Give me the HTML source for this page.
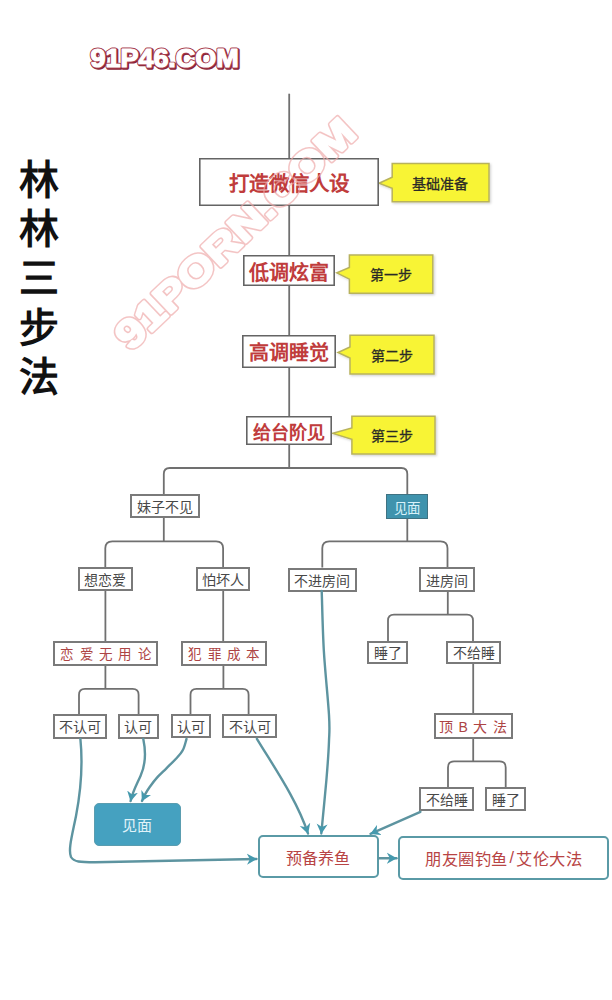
<!DOCTYPE html>
<html lang="zh-CN">
<head>
<meta charset="utf-8">
<style>
html,body{margin:0;padding:0;background:#fff;}
body{width:612px;height:1000px;position:relative;overflow:hidden;font-family:"Liberation Sans",sans-serif;}
.a{position:absolute;box-sizing:border-box;display:flex;align-items:center;justify-content:center;white-space:nowrap;}
.mb{border:none;box-shadow:inset 0 0 0 1.6px #646464;background:#fff;color:#c03c3c;font-weight:bold;font-size:21px;}
.nb{border:2px solid #7a7a7a;background:#fff;color:#484848;font-size:14px;}
.rb{border:2px solid #7a7a7a;background:#fff;color:#ad4444;font-weight:500;font-size:13.5px;letter-spacing:6.3px;}
.tb{background:#3f93ad;border:1.5px solid #3f7282;color:#d8f2fa;font-size:13.5px;padding-top:1px;}
.bb{background:#45a1c0;border:1px solid #5a9db0;border-radius:5px;color:#e0f3f9;font-size:15px;}
.ob{border:2px solid #5a9aa6;border-radius:5px;background:#fff;color:#b84444;font-size:16px;}
.title{position:absolute;left:19px;top:155.5px;font-size:40px;line-height:49.4px;font-weight:bold;color:#111;width:45px;}
svg{position:absolute;left:0;top:0;}
</style>
</head>
<body>
<svg width="612" height="1000" viewBox="0 0 612 1000">
  <defs><filter id="sh" x="-10%" y="-10%" width="130%" height="130%"><feDropShadow dx="1.2" dy="1.2" stdDeviation="0.8" flood-color="#000" flood-opacity="0.18"/></filter></defs>
  <g font-family="Liberation Sans, sans-serif">
  <path d="M392.2 163.6 H489 V201.7 H392.2 V188.2 L379 183.2 L392.2 177.2 Z" fill="#f8f434" stroke="#b8b25c" stroke-width="1.5" filter="url(#sh)"/><text x="439.5" y="189" text-anchor="middle" font-size="14" font-weight="normal" fill="#2a2a26" stroke="#2a2a26" stroke-width="0.3">基础准备</text><path d="M349.4 254.9 H432.8 V293.2 H349.4 V279.1 L336.8 272.9 L349.4 267.5 Z" fill="#f8f434" stroke="#b8b25c" stroke-width="1.5" filter="url(#sh)"/><text x="391" y="280" text-anchor="middle" font-size="14" font-weight="normal" fill="#2a2a26" stroke="#2a2a26" stroke-width="0.3">第一步</text><path d="M350 335.3 H434 V374 H350 V358 L338 352.5 L350 347 Z" fill="#f8f434" stroke="#b8b25c" stroke-width="1.5" filter="url(#sh)"/><text x="392" y="361" text-anchor="middle" font-size="14" font-weight="normal" fill="#2a2a26" stroke="#2a2a26" stroke-width="0.3">第二步</text><path d="M351.9 416.3 H435 V454 H351.9 V439.3 L332.7 433.4 L351.9 428 Z" fill="#f8f434" stroke="#b8b25c" stroke-width="1.5" filter="url(#sh)"/><text x="392.3" y="441" text-anchor="middle" font-size="14" font-weight="normal" fill="#2a2a26" stroke="#2a2a26" stroke-width="0.3">第三步</text>
  </g>
  <g stroke="#707070" stroke-width="1.8" fill="none">
  <path d="M289.2 93.7 V158"/><path d="M289.2 206 V255"/><path d="M289.2 286 V335"/><path d="M289.2 367 V416"/><path d="M289.2 445 V468"/><path d="M163.8 494.5 V474 Q163.8 468 169.8 468 H401.3 Q407.3 468 407.3 474 V494.5"/><path d="M163.8 518 V541.3"/><path d="M105.3 567.5 V548.3 Q105.3 541.3 112.3 541.3 H216.1 Q223.1 541.3 223.1 548.3 V567.5"/><path d="M407.3 518.5 V541.3"/><path d="M322.3 567.5 V548.3 Q322.3 541.3 329.3 541.3 H440.5 Q447.5 541.3 447.5 548.3 V567.5"/><path d="M105.4 591 V641"/><path d="M223.2 591 V641"/><path d="M105.4 665.5 V688.8"/><path d="M79 714.3 V694.8 Q79 688.8 85 688.8 H132.6 Q138.6 688.8 138.6 694.8 V714.3"/><path d="M223.4 665.5 V688.8"/><path d="M190.5 714.3 V694.8 Q190.5 688.8 196.5 688.8 H242.6 Q248.6 688.8 248.6 694.8 V714.3"/><path d="M447.8 591.5 V614.6"/><path d="M388 641 V620.6 Q388 614.6 394 614.6 H467 Q473 614.6 473 620.6 V641"/><path d="M473.2 664 V713"/><path d="M473.2 738.7 V761.4"/><path d="M448 787.2 V767.4 Q448 761.4 454 761.4 H499.7 Q505.7 761.4 505.7 767.4 V787.2"/>
  </g>
</svg>
<div class="title">林<br>林<br>三<br>步<br>法</div>
<div class="a mb" style="left:199.2px;top:158.2px;width:179.7px;height:47.6px;font-size:20.5px;">打造微信人设</div>
<div class="a mb" style="left:243px;top:255.3px;width:91.9px;height:31.2px;font-size:20px;padding-top:1px;">低调炫富</div>
<div class="a mb" style="left:242.3px;top:335.4px;width:94.0px;height:32.2px;font-size:20px;">高调睡觉</div>
<div class="a mb" style="left:246.4px;top:416.2px;width:85.9px;height:28.8px;font-size:18px;">给台阶见</div>
<div class="a nb" style="left:129.5px;top:494.2px;width:70.1px;height:24.0px;">妹子不见</div>
<div class="a tb" style="left:386.3px;top:494.2px;width:41.5px;height:24.5px;">见面</div>
<div class="a nb" style="left:77.8px;top:567.4px;width:54.9px;height:24.1px;">想恋爱</div>
<div class="a nb" style="left:195.5px;top:567.4px;width:54.9px;height:23.9px;">怕坏人</div>
<div class="a nb" style="left:288.1px;top:567.5px;width:68.7px;height:24.0px;">不进房间</div>
<div class="a nb" style="left:419.4px;top:567.4px;width:55.2px;height:24.4px;">进房间</div>
<div class="a rb" style="left:53.2px;top:640.8px;width:105.1px;height:25.1px;padding-left:6px;">恋爱无用论</div>
<div class="a rb" style="left:180.9px;top:640.5px;width:85.9px;height:25.3px;padding-left:6px;">犯罪成本</div>
<div class="a nb" style="left:367.4px;top:640.5px;width:40.9px;height:23.8px;">睡了</div>
<div class="a nb" style="left:446.3px;top:640.5px;width:55.1px;height:23.8px;">不给睡</div>
<div class="a nb" style="left:52.5px;top:714.1px;width:54.3px;height:24.5px;">不认可</div>
<div class="a nb" style="left:117.9px;top:714.1px;width:40.8px;height:24.5px;">认可</div>
<div class="a nb" style="left:170.6px;top:714.3px;width:40.5px;height:24.1px;">认可</div>
<div class="a nb" style="left:222.3px;top:714.3px;width:54.5px;height:24.1px;">不认可</div>
<div class="a rb" style="left:433.6px;top:712.9px;width:79.0px;height:25.8px;padding-left:5px;font-size:14px;letter-spacing:5.5px;">顶B大法</div>
<div class="a nb" style="left:419.4px;top:787.2px;width:55.0px;height:24.1px;">不给睡</div>
<div class="a nb" style="left:485.3px;top:787.2px;width:41.0px;height:24.1px;">睡了</div>
<div class="a bb" style="left:93.7px;top:802.7px;width:87.3px;height:43.8px;">见面</div>
<div class="a ob" style="left:257.8px;top:834.8px;width:120.8px;height:43.7px;">预备养鱼</div>
<div class="a ob" style="left:398.2px;top:835.9px;width:211.1px;height:44.0px;font-size:16.3px;letter-spacing:0.5px;">朋友圈钓鱼<span style="margin:0 1.5px">/</span>艾伦大法</div>
<svg width="612" height="1000" viewBox="0 0 612 1000">
  <defs>
    <marker id="ah" viewBox="0 0 10 11" refX="9.6" refY="5.5" markerWidth="10" markerHeight="12" orient="auto" markerUnits="userSpaceOnUse">
      <path d="M0 0 L10 5.5 L0 11 L3 5.5 Z" fill="#4599ad"/>
    </marker>
  </defs>
  <g stroke="#5d94a0" stroke-width="2.4" fill="none" marker-end="url(#ah)" stroke-linecap="round">
    <path d="M80.4 739 C82.5 760 81 790 76 816 C72 836 68 850 71 857 C74 862 80 862.3 95 862.3 L256.5 859"/>
    <path d="M143.3 739 C146 752 145.5 765 140.5 776 C136.5 785 132.5 792 130.6 801"/>
    <path d="M186.5 739.0 C185.9 740.8 184.7 746.5 183.0 749.7 C181.3 753.0 179.0 755.4 176.2 758.5 C173.4 761.6 169.7 765.0 166.4 768.3 C163.1 771.6 159.4 775.0 156.6 778.1 C153.8 781.2 151.7 784.2 149.7 787.0 C147.7 789.8 146.1 792.5 144.8 794.8 C143.5 797.1 142.5 800.0 142.0 801.0"/>
    <path d="M256.9 738.8 C274 767 297 800 308 833.5"/>
    <path d="M321.7 591.0 C322.1 600.8 322.6 629.3 323.8 650.0 C325.0 670.7 328.1 699.8 329.0 715.0 C329.9 730.2 329.4 730.2 329.0 741.0 C328.6 751.8 327.7 764.7 326.4 780.0 C325.1 795.3 322.1 824.2 321.3 833.5"/>
    <path d="M420.4 811.8 L370.5 833.8"/>
    <path d="M379 858.3 L396.5 858.3"/>
</g>
  <g font-family="Liberation Sans, sans-serif" font-weight="bold">
    <text x="91.6" y="67.8" font-size="25" fill="#8a2438" stroke="#8a2438" stroke-width="3.4" stroke-linejoin="round" textLength="148" lengthAdjust="spacingAndGlyphs">91P46.COM</text>
    <text x="90.6" y="66.8" font-size="25" fill="#fff" stroke="#a8404f" stroke-width="3" stroke-linejoin="round" textLength="148" lengthAdjust="spacingAndGlyphs">91P46.COM</text>
    <text x="90.6" y="66.8" font-size="25" fill="#fff" stroke="#fff" stroke-width="1.2" stroke-linejoin="round" textLength="148" lengthAdjust="spacingAndGlyphs">91P46.COM</text>
    <mask id="wmk" maskUnits="userSpaceOnUse" x="0" y="0" width="612" height="1000">
      <g transform="translate(235 233.5) rotate(-43.5)" font-size="40" text-anchor="middle" dominant-baseline="central" font-family="Liberation Sans, sans-serif" font-weight="bold">
        <text stroke="#fff" stroke-width="5" fill="#fff" stroke-linejoin="round" textLength="314" lengthAdjust="spacingAndGlyphs">91PORN.COM</text>
        <text stroke="#000" stroke-width="2.2" fill="#000" stroke-linejoin="round" textLength="314" lengthAdjust="spacingAndGlyphs">91PORN.COM</text>
      </g>
    </mask>
    <rect x="0" y="0" width="612" height="1000" fill="#eea6a6" opacity="0.65" mask="url(#wmk)"/>
  </g>
</svg>
</body>
</html>
